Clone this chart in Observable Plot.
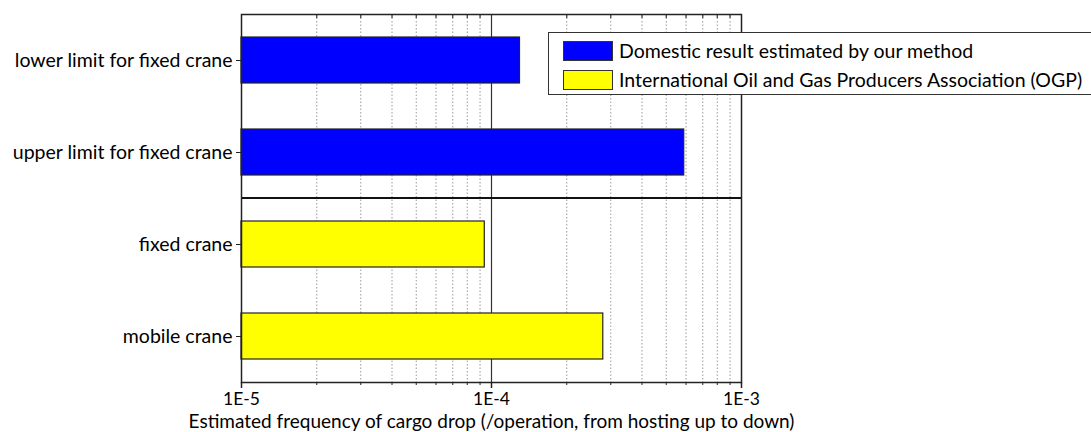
<!DOCTYPE html>
<html>
<head>
<meta charset="utf-8">
<script src="https://cdn.jsdelivr.net/npm/d3@7"></script>
<script src="https://cdn.jsdelivr.net/npm/@observablehq/plot@0.6"></script>
<style>
  body { margin: 0; background: #fff; overflow: hidden; }
  #wrap { position: relative; width: 1091px; height: 432px; font-family: Lato, "Open Sans", sans-serif; }
  #legend { position: absolute; left: 548px; top: 32px; width: 560px; height: 63px; border: 1px solid #333; background: #fff; box-sizing: border-box; }
  .row { position: absolute; left: 14px; display: flex; align-items: center; font-size: 19.5px; color: #000; white-space: nowrap; }
  .sw { width: 50px; height: 20px; border: 1px solid #333; box-sizing: border-box; margin-right: 6px; }
</style>
</head>
<body>
<div id="wrap"></div>
<script>
const categories = ["lower limit for fixed crane", "upper limit for fixed crane", "fixed crane", "mobile crane"];
const values = [1.3e-4, 5.9e-4, 9.4e-5, 2.8e-4];
const seriesNames = ["Domestic result estimated by our method", "International Oil and Gas Producers Association (OGP)"];
const seriesOf = [0, 0, 1, 1];
const seriesColors = ["#0000FF", "#FFFF00"];
const majorTicks = [1e-5, 1e-4, 1e-3];
const majorLabels = ["1E-5", "1E-4", "1E-3"];
const minorTicks = [2e-5, 3e-5, 4e-5, 5e-5, 6e-5, 7e-5, 8e-5, 9e-5, 2e-4, 3e-4, 4e-4, 5e-4, 6e-4, 7e-4, 8e-4, 9e-4];
const xMin = 1e-5, xMax = 1e-3;
const xLabel = "Estimated frequency of cargo drop (/operation, from hosting up to down)";

const data = categories.map((c, i) => ({category: c, value: values[i], series: seriesNames[seriesOf[i]]}));

const separator = (index, scales, vals, dims) => {
  const y = scales.y;
  const a = y(categories[1]), b = y(categories[2]);
  const yy = b - (b - a) * 0.25;
  const line = d3.create("svg:line")
    .attr("x1", dims.marginLeft).attr("x2", dims.width - dims.marginRight)
    .attr("y1", yy).attr("y2", yy)
    .attr("stroke", "#111").attr("stroke-width", 2);
  return line.node();
};

const chart = Plot.plot({
  width: 1091,
  height: 432,
  marginLeft: 241,
  marginRight: 350,
  marginTop: 14,
  marginBottom: 50,
  style: {fontFamily: "Lato, 'Open Sans', sans-serif", fontSize: "19.5px", color: "#000", background: "#fff"},
  x: {type: "log", domain: [xMin, xMax]},
  y: {domain: categories, paddingInner: 0.5, paddingOuter: 0.25},
  color: {domain: seriesNames, range: seriesColors},
  marks: [
    Plot.ruleX(minorTicks, {stroke: "#999", strokeDasharray: "1.5,2", strokeWidth: 1}),
    Plot.ruleX([1e-4], {stroke: "#333", strokeWidth: 1.2}),
    Plot.ruleX(minorTicks, {stroke: "#333", strokeWidth: 1.2, insetBottom: 364}),
    Plot.barX(data, {x1: xMin, x2: "value", y: "category", fill: "series", stroke: "#222", strokeWidth: 1.2}),
    separator,
    Plot.frame({stroke: "#222", strokeWidth: 1.5}),
    Plot.axisX(majorTicks, {anchor: "bottom", tickSize: 6, tickPadding: 4, tickFormat: (d) => majorLabels[majorTicks.indexOf(d)], fontSize: 17.5, stroke: "#222", strokeWidth: 1.5, label: null}),
    Plot.axisX(majorTicks, {anchor: "bottom", tickSize: 0, tickFormat: () => "", fontSize: 19, label: xLabel, labelAnchor: "center", labelArrow: "none", labelOffset: 45}),
    Plot.axisX(minorTicks, {anchor: "bottom", tickSize: 3, tickFormat: () => "", label: null, stroke: "#222"}),
    Plot.axisY({anchor: "left", tickSize: 5, tickPadding: 4, fontSize: 19.5, label: null, stroke: "#222"})
  ]
});

const wrap = document.getElementById("wrap");
wrap.appendChild(chart);

const legend = document.createElement("div");
legend.id = "legend";
seriesNames.forEach((name, i) => {
  const row = document.createElement("div");
  row.className = "row";
  row.style.top = (6 + i * 29) + "px";
  const sw = document.createElement("div");
  sw.className = "sw";
  sw.style.background = seriesColors[i];
  const t = document.createElement("span");
  t.textContent = name;
  row.appendChild(sw);
  row.appendChild(t);
  legend.appendChild(row);
});
wrap.appendChild(legend);
</script>
</body>
</html>
